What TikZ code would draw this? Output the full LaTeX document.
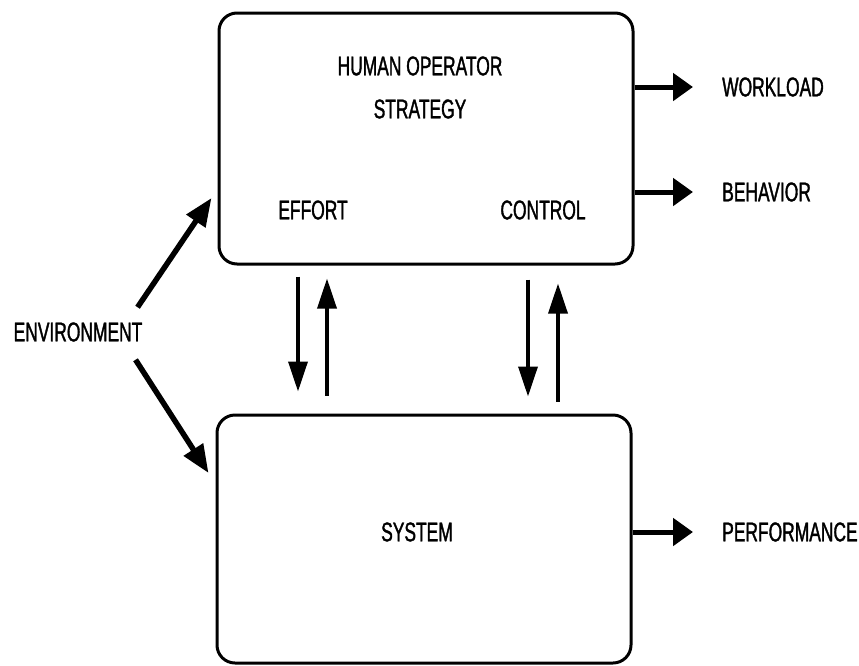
\documentclass[tikz,border=0pt]{standalone}
\usepackage{fontspec}
\newfontfamily\nar[FakeStretch=0.645,FakeBold=1.3]{Liberation Sans}
\usetikzlibrary{arrows.meta}
\tikzset{
  box/.style={draw, line width=3pt, rounded corners=18pt, inner sep=0pt},
  lbl/.style={inner sep=0pt, font=\nar\fontsize{27}{32}\selectfont},
  outarr/.style={line width=5pt, -{Triangle[length=20pt,width=27pt]}},
  envarr/.style={line width=5.5pt, -{Triangle[length=28pt,width=22pt]}},
  varr/.style={line width=3.5pt, -{Triangle[length=30pt,width=19pt]}},
}
\begin{document}
\begin{tikzpicture}[x=1pt,y=-1pt]
\useasboundingbox (0,0) rectangle (859,665);
\node[box, minimum width=414pt, minimum height=251pt] (hum) at (426,138.5) {};
\node[box, minimum width=414pt, minimum height=248pt] (sys) at (424,539) {};
\node[lbl] (ho) at (420,66) {HUMAN OPERATOR};
\node[lbl] (st) at (420,109) {STRATEGY};
\node[lbl] (ef) at (313,210) {EFFORT};
\node[lbl] (co) at (543,210) {CONTROL};
\node[lbl] (sy) at (417,532) {SYSTEM};
\node[lbl] (env) at (78,332) {ENVIRONMENT};
\node[lbl, anchor=west] (wl) at (722,87) {WORKLOAD};
\node[lbl, anchor=west] (be) at (722,192) {BEHAVIOR};
\node[lbl, anchor=west] (pe) at (722,532) {PERFORMANCE};
% outputs
\draw[outarr] (hum.east |- wl.west) -- ([xshift=-29pt]wl.west);
\draw[outarr] (hum.east |- be.west) -- ([xshift=-29pt]be.west);
\draw[outarr] (sys.east |- pe.west) -- ([xshift=-29pt]pe.west);
% environment
\draw[envarr] ([shift={(-5,-15)}]env.north east) -- ([shift={(-6,59.5)}]hum.west);
\draw[envarr] ([shift={(-7,18)}]env.south east) -- ([shift={(-7,-66)}]sys.west);
% vertical
\draw[varr, shorten <=11pt, shorten >=22pt] (hum.south -| 298,0) -- (sys.north -| 298,0);
\draw[varr, shorten <=18pt, shorten >=13pt] (sys.north -| 327,0) -- (hum.south -| 327,0);
\draw[varr, shorten <=14pt, shorten >=17pt] (hum.south -| 528,0) -- (sys.north -| 528,0);
\draw[varr, shorten <=12pt, shorten >=18pt] (sys.north -| 558,0) -- (hum.south -| 558,0);
\end{tikzpicture}
\end{document}
